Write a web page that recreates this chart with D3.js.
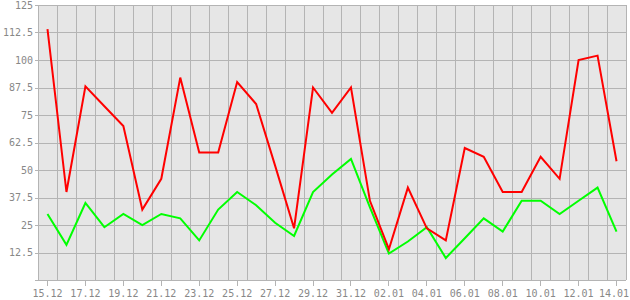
<html>
<head>
<meta charset="utf-8">
<script src="https://cdn.jsdelivr.net/npm/d3@7"></script>
<style>
  body { margin: 0; background: #fff; }
  .axis text { font-family: "DejaVu Sans Mono", monospace; font-size: 10px; fill: #888; }
  .axis path { display: none; }
  .axis line { stroke: #b4b4b4; }
</style>
</head>
<body>
<div id="chart"></div>
<script>

// days shown on x axis
let days = ['15.12','16.12','17.12','18.12','19.12','20.12','21.12','22.12','23.12','24.12',
  '25.12','26.12','27.12','28.12','29.12','30.12','31.12','01.01','02.01','03.01',
  '04.01','05.01','06.01','07.01','08.01','09.01','10.01','11.01','12.01','13.01','14.01'];

let redValues = [114, 40, 88, 79, 70, 32, 46, 92, 58, 58,
  90, 80, 52, 23.5, 87.5, 76, 87.5, 36, 14, 42,
  23.5, 18, 60, 56, 40, 40, 56, 46, 100, 102, 54];

let greenValues = [30, 16, 35, 24, 30, 25, 30, 28, 18, 32,
  40, 34, 26, 20, 40, 48, 55, 33, 12, 17.5,
  24, 10, 19, 28, 22, 36, 36, 30, 36, 42, 22];

let yTicks = [12.5, 25, 37.5, 50, 62.5, 75, 87.5, 100, 112.5, 125];

let width = 630;
let height = 300;
let plotLeft = 38, plotRight = 626, plotTop = 5, plotBottom = 280;

let svg = d3.select('#chart')
    .append('svg')
    .attr('width', width)
    .attr('height', height);

let x = d3.scaleBand()
    .domain(days)
    .range([plotLeft, plotRight])
    .padding(0);

let y = d3.scaleLinear()
    .domain([0, 125])
    .range([plotBottom, plotTop]);

// plot background
svg.append('rect')
    .attr('x', plotLeft)
    .attr('y', plotTop)
    .attr('width', plotRight - plotLeft)
    .attr('height', plotBottom - plotTop)
    .attr('fill', '#e6e6e6');

let grid = svg.append('g')
    .attr('stroke', '#b4b4b4')
    .attr('stroke-width', 1)
    .attr('shape-rendering', 'crispEdges');

// vertical grid on band edges
let edges = days.map(d => x(d)).concat([plotRight]);
grid.selectAll('.vg')
    .data(edges)
    .enter().append('line')
    .attr('x1', d => Math.round(d) + 0.5)
    .attr('x2', d => Math.round(d) + 0.5)
    .attr('y1', plotTop)
    .attr('y2', plotBottom);

// horizontal grid
grid.selectAll('.hg')
    .data([0].concat(yTicks))
    .enter().append('line')
    .attr('x1', plotLeft - 3)
    .attr('x2', plotRight)
    .attr('y1', d => Math.round(y(d)) + 0.5)
    .attr('y2', d => Math.round(y(d)) + 0.5);

// y axis labels
svg.append('g')
    .attr('class', 'axis')
    .attr('transform', 'translate(' + (plotLeft - 3) + ',0)')
    .call(d3.axisLeft(y).tickValues(yTicks).tickSize(0).tickPadding(2)
      .tickFormat(d => d3.format('~g')(d)));

// x axis: label every second day
let xAxis = svg.append('g')
    .attr('class', 'axis')
    .attr('transform', 'translate(0,' + (plotBottom + 0.5) + ')')
    .attr('shape-rendering', 'crispEdges')
    .call(d3.axisBottom(x).tickValues(days.filter((d, i) => i % 2 === 0))
      .tickSize(5).tickPadding(4));

// keep the last label inside the picture
xAxis.selectAll('.tick text')
    .filter(d => d === days[days.length - 1])
    .attr('text-anchor', 'end')
    .attr('x', function() {
      let tickX = x(days[days.length - 1]) + x.bandwidth() / 2;
      return (width - 1) - tickX;
    });

let line = d3.line()
    .x((d, i) => x(days[i]) + x.bandwidth() / 2)
    .y(d => y(d));

svg.append('path')
    .datum(greenValues)
    .attr('fill', 'none')
    .attr('stroke', '#00ff00')
    .attr('stroke-width', 2)
    .attr('d', line);

svg.append('path')
    .datum(redValues)
    .attr('fill', 'none')
    .attr('stroke', '#ff0000')
    .attr('stroke-width', 2)
    .attr('d', line);

</script>
</body>
</html>
